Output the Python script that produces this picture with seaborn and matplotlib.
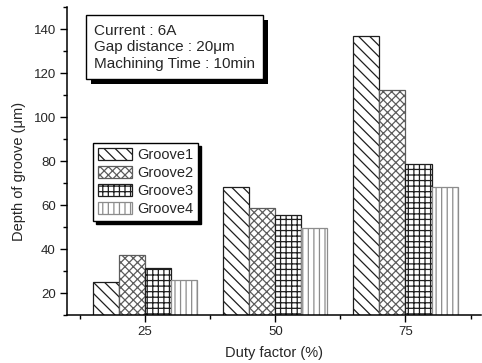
import matplotlib
matplotlib.use("Agg")
import matplotlib.pyplot as plt
import matplotlib.patches as mpatches
from matplotlib.ticker import FixedLocator, MultipleLocator
import pandas as pd
import seaborn as sns

# Groove depth (um) for each duty factor (%)
duty_factors = ["25", "50", "75"]
grooves = ["Groove1", "Groove2", "Groove3", "Groove4"]
groove1 = [25.0, 68.2, 137.0]
groove2 = [37.3, 58.5, 112.4]
groove3 = [31.4, 55.6, 78.8]
groove4 = [26.0, 49.5, 68.2]
y_ticks = [20, 40, 60, 80, 100, 120, 140]
info_lines = ["Current : 6A", "Gap distance : 20μm", "Machining Time : 10min"]

hatches = ["\\\\\\", "xxxx", "+++", "|||"]
edge_colors = ["#1e1e1e", "#5c5c5c", "#1e1e1e", "#8c8c8c"]

rows = []
for name, vals in zip(grooves, [groove1, groove2, groove3, groove4]):
    for d, v in zip(duty_factors, vals):
        rows.append({"Duty factor": d, "Depth": v, "Groove": name})
df = pd.DataFrame(rows)

sns.set_style("ticks")
plt.rcParams["font.family"] = ["Liberation Sans", "DejaVu Sans"]
plt.rcParams["hatch.linewidth"] = 0.9

W, H = 482, 363
fig = plt.figure(figsize=(W / 100, H / 100), dpi=100)
ax = fig.add_axes([67 / W, 48 / H, (481 - 67) / W, (315 - 7) / H])

sns.barplot(
    data=df, x="Duty factor", y="Depth", hue="Groove",
    order=duty_factors, hue_order=grooves,
    palette=["white"] * 4, saturation=1, width=0.8, dodge=True,
    errorbar=None, legend=False, linewidth=0.9, edgecolor="black", ax=ax,
)

for cont, hatch, ec in zip(ax.containers, hatches, edge_colors):
    for bar in cont.patches:
        bar.set_hatch(hatch)
        bar.set_edgecolor(ec)
        bar.set_facecolor("white")

ax.set_xlim(-0.6, 2.58)
ax.set_ylim(10, 150)
ax.yaxis.set_major_locator(FixedLocator(y_ticks))
ax.yaxis.set_minor_locator(MultipleLocator(10))
ax.xaxis.set_minor_locator(FixedLocator([-0.5, 0.5, 1.5, 2.5]))

for side in ["top", "right"]:
    ax.spines[side].set_visible(False)
for side in ["left", "bottom"]:
    ax.spines[side].set_linewidth(1.1)
    ax.spines[side].set_color("black")

ax.tick_params(which="major", length=5, width=1, direction="out",
               labelsize=9.5, pad=3, color="black")
ax.tick_params(which="minor", length=3, width=1, direction="out", color="black")

ax.set_xlabel("Duty factor (%)", fontsize=10.5, labelpad=6)
ax.set_ylabel("Depth of groove (μm)", fontsize=10.5)
ax.yaxis.set_label_coords(-0.10, 0.467)

leg = ax.legend(
    ax.containers, grooves,
    loc="upper left", bbox_to_anchor=(93 / W, 1 - 143 / H),
    bbox_transform=fig.transFigure, borderaxespad=0,
    fontsize=10.5, frameon=True, fancybox=False,
    shadow={"color": "black", "alpha": 1},
    handlelength=2.3, handleheight=0.85, handletextpad=0.35,
    labelspacing=0.28, borderpad=0.35,
)
leg.get_frame().set_edgecolor("black")
leg.get_frame().set_linewidth(1.0)

# Condition box with drop shadow, in figure pixels
def fig_rect(x0, y0, x1, y1, **kw):
    return mpatches.Rectangle((x0 / W, 1 - y1 / H), (x1 - x0) / W, (y1 - y0) / H,
                              transform=fig.transFigure, **kw)

fig.add_artist(fig_rect(91, 20, 268, 84, facecolor="black", edgecolor="none"))
fig.add_artist(fig_rect(86, 15, 263, 79, facecolor="white", edgecolor="black", linewidth=1.0))
fig.text(94 / W, 1 - 47.5 / H, "\n".join(info_lines), fontsize=11,
         ha="left", va="center", linespacing=1.2)

fig.savefig("out.png", dpi=100)
